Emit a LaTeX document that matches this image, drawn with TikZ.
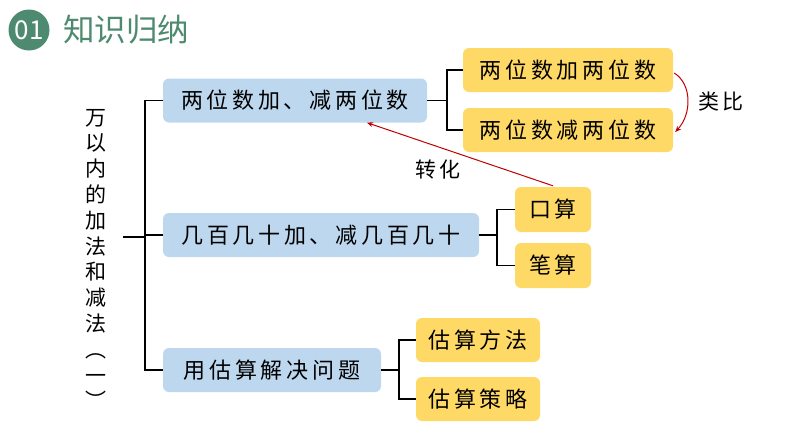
\documentclass[tikz,border=0pt]{standalone}
\usepackage{fontspec}
\setmainfont{Noto Sans CJK SC}
\newfontfamily\cjks{Noto Sans CJK SC}[LetterSpace=17]
\usetikzlibrary{arrows.meta}
\definecolor{hdgreen}{HTML}{4E8A70}
\definecolor{bluebox}{HTML}{BDD7EE}
\definecolor{yelbox}{HTML}{FFD966}
\definecolor{arrred}{HTML}{C00000}
\tikzset{
  bbox/.style={fill=bluebox, rounded corners=6pt, inner sep=0pt, minimum height=44pt, font=\cjks\fontsize{22}{26}\selectfont},
  ybox/.style={fill=yelbox, rounded corners=6pt, inner sep=0pt, minimum height=44pt, font=\cjks\fontsize{22}{26}\selectfont},
  link/.style={draw=black, line width=1.4pt},
  redarr/.style={draw=arrred, line width=1pt, -{Stealth[length=6pt,width=5pt]}},
  lbl/.style={font=\cjks\fontsize{21}{24}\selectfont, inner sep=0pt}
}
\begin{document}
\begin{tikzpicture}[x=1pt,y=-1pt]
\useasboundingbox (0,0) rectangle (794,447);
% header
\node[circle, fill=hdgreen, minimum size=41pt, inner sep=0pt, text=white, font=\fontsize{26}{28}\selectfont] (num) at (29,30) {01};
\node[anchor=west, text=hdgreen, font=\fontsize{31.5}{34}\selectfont, inner sep=0pt] (title) at (63,30) {知识归纳};
% vertical root text
\node[align=center, inner sep=0pt, font=\fontsize{21}{25.8}\selectfont] (root) at (96,259)
  {万\\以\\内\\的\\加\\法\\和\\减\\法\\︵\\一\\︶};
% blue boxes
\node[bbox, minimum width=264pt] (b1) at (295,100.5) {两位数加、减两位数};
\node[bbox, minimum width=316pt] (b2) at (321,235) {几百几十加、减几百几十};
\node[bbox, minimum width=218pt] (b3) at (272,370) {用估算解决问题};
% yellow boxes
\node[ybox, minimum width=210pt] (ya) at (568,70) {两位数加两位数};
\node[ybox, minimum width=210pt] (yb) at (568,130) {两位数减两位数};
\node[ybox, minimum width=76pt, minimum height=45pt] (yk) at (553,209.5) {口算};
\node[ybox, minimum width=76pt, minimum height=45pt] (yp) at (553,265.5) {笔算};
\node[ybox, minimum width=124pt] (yf) at (478,340) {估算方法};
\node[ybox, minimum width=124pt] (yc) at (478,399) {估算策略};
% main tree
\coordinate (rs) at (123,237);
\coordinate (trunk) at (145,237);
\draw[link] (rs) -- (trunk);
\draw[link] (b1.west) -| (trunk) |- (b3.west);
\draw[link] (b2.west) -- (b2.west -| trunk);
% bracket 1
\coordinate (j1) at (447,100.5);
\draw[link] (b1.east) -- (j1);
\draw[link] (ya.west) -| (j1) |- (yb.west);
% bracket 2
\coordinate (j2) at (497,237);
\draw[link] (b2.east) -- (b2.east -| j2);
\draw[link] (yk.west) -| (j2) |- (yp.west);
% bracket 3
\coordinate (j3) at (399,370);
\draw[link] (b3.east) -- (j3);
\draw[link] (yf.west) -| (j3) |- (yc.west);
% red arrows
\draw[redarr] (yk.north) ++(0,-1) coordinate (ks) (ks) -- (b1.south -| 367,0);
\draw[redarr] (ya.east) ++(1,3) coordinate (as) (as) .. controls (692,84) and (692,114) .. ([xshift=2pt,yshift=-2pt]yb.east);
\node[lbl] (zh) at (438,170) {转化};
\node[lbl] (lb) at (721,102) {类比};
\end{tikzpicture}
\end{document}
